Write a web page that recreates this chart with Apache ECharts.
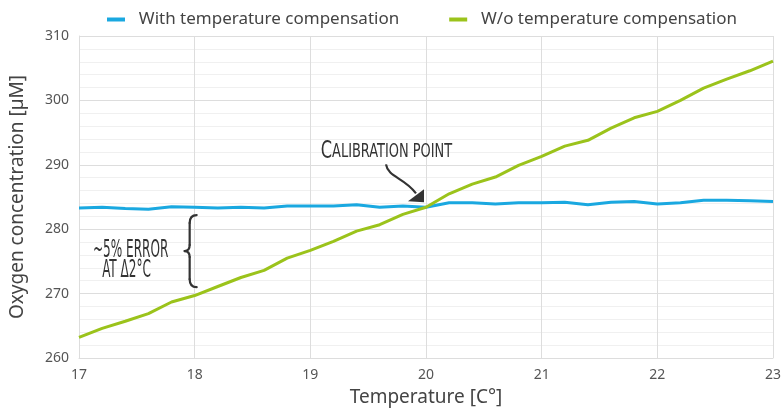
<!DOCTYPE html>
<html>
<head>
<meta charset="utf-8">
<script src="https://cdn.jsdelivr.net/npm/echarts@6/dist/echarts.min.js"></script>
<style>
  html, body { margin: 0; padding: 0; background: #fff; }
  #chart { width: 784px; height: 412px; }
</style>
</head>
<body>
<div id="chart"></div>
<script>
const temps = [17, 17.2, 17.4, 17.6, 17.8, 18, 18.2, 18.4, 18.6, 18.8, 19, 19.2, 19.4, 19.6, 19.8,
  20, 20.2, 20.4, 20.6, 20.8, 21, 21.2, 21.4, 21.6, 21.8, 22, 22.2, 22.4, 22.6, 22.8, 23];

const withComp = [283.3, 283.4, 283.2, 283.1, 283.5, 283.4, 283.3, 283.4, 283.3, 283.6, 283.6,
  283.6, 283.8, 283.4, 283.6, 283.4, 284.1, 284.1, 283.9, 284.1, 284.1, 284.2, 283.8, 284.2,
  284.3, 283.9, 284.1, 284.5, 284.5, 284.4, 284.3];

const withoutComp = [263.2, 264.6, 265.7, 266.9, 268.7, 269.7, 271.1, 272.5, 273.6, 275.5, 276.7,
  278.1, 279.7, 280.7, 282.3, 283.4, 285.5, 287.0, 288.1, 289.9, 291.3, 292.9, 293.8, 295.7,
  297.3, 298.3, 300.0, 301.9, 303.3, 304.6, 306.1];

const seriesNames = ['With temperature compensation', 'W/o temperature compensation'];
const calibration = [20, 283.4];

const font = '"Noto Sans", "Open Sans", sans-serif';
const handFont = '"DejaVu Sans Condensed", "Liberation Sans Narrow", sans-serif';
const ink = '#333';
const blue = '#1aa8e0';
const green = '#9bc31b';

const chart = echarts.init(document.getElementById('chart'));

chart.setOption({
  animation: false,
  textStyle: { fontFamily: font },
  legend: {
    data: seriesNames,
    left: 102,
    top: 6,
    icon: 'rect',
    itemWidth: 18,
    itemHeight: 4,
    itemGap: 50,
    formatter: name => '  ' + name,
    textStyle: { fontSize: 17, color: '#444', fontFamily: font }
  },
  grid: { left: 79, right: 11, top: 36, bottom: 49 },
  xAxis: {
    type: 'value',
    min: 17,
    max: 23,
    interval: 1,
    name: 'Temperature [C°]',
    nameLocation: 'middle',
    nameGap: 30,
    nameTextStyle: { fontSize: 19, color: '#444', fontFamily: font },
    axisLine: { lineStyle: { color: '#ddd' } },
    axisTick: { show: false },
    axisLabel: { fontSize: 14, color: '#555', margin: 10 },
    splitLine: { show: true, lineStyle: { color: '#ddd' } }
  },
  yAxis: {
    type: 'value',
    min: 260,
    max: 310,
    interval: 10,
    name: 'Oxygen concentration [µM]',
    nameLocation: 'middle',
    nameGap: 52,
    nameTextStyle: { fontSize: 19, color: '#444', fontFamily: font },
    axisLine: { show: true, lineStyle: { color: '#ddd' } },
    axisTick: { show: false },
    axisLabel: { fontSize: 14, color: '#555', margin: 10 },
    splitLine: { lineStyle: { color: '#ddd' } },
    minorTick: { show: false, splitNumber: 5 },
    minorSplitLine: { show: true, lineStyle: { color: '#f0f0f0' } }
  },
  series: [
    {
      name: seriesNames[0],
      type: 'line',
      data: temps.map((t, i) => [t, withComp[i]]),
      showSymbol: false,
      lineStyle: { color: blue, width: 3 },
      itemStyle: { color: blue }
    },
    {
      name: seriesNames[1],
      type: 'line',
      data: temps.map((t, i) => [t, withoutComp[i]]),
      showSymbol: false,
      lineStyle: { color: green, width: 3 },
      itemStyle: { color: green }
    }
  ]
});

// annotations, placed from data coordinates
function px(x, y) {
  return chart.convertToPixel({ gridIndex: 0 }, [x, y]);
}

const cp = px(calibration[0], calibration[1]);
const braceTop = px(18, 282.2);
const braceBot = px(18, 271.0);
const bx = braceTop[0] + 2;
const bt = braceTop[1];
const bb = braceBot[1];
const bm = (bt + bb) / 2;
const errLine1 = px(17.12, 276.7);
const errLine2 = px(17.2, 273.5);
const calText = px(19.09, 292.0);

const braceStyle = { stroke: ink, lineWidth: 2.2, fill: null, lineCap: 'round' };
function quad(x1, y1, cx, cy, x2, y2) {
  return { type: 'bezierCurve', shape: { x1, y1, cpx1: cx, cpy1: cy, x2, y2 }, style: braceStyle };
}
function seg(x1, y1, x2, y2) {
  return { type: 'line', shape: { x1, y1, x2, y2 }, style: braceStyle };
}

const handText = (pos, text, size, sx) => ({
  type: 'text',
  x: pos[0],
  y: pos[1],
  scaleX: sx,
  style: { text, fontSize: size, fontFamily: handFont, fill: ink, verticalAlign: 'middle' }
});

chart.setOption({
  graphic: [
    {
      type: 'text',
      x: calText[0],
      y: calText[1],
      scaleX: 0.72,
      style: {
        text: '{big|C}{small|ALIBRATION POINT}',
        verticalAlign: 'middle',
        fill: ink,
        rich: {
          big: { fontSize: 25, fontFamily: handFont, fill: ink },
          small: { fontSize: 20, fontFamily: handFont, fill: ink }
        }
      }
    },
    {
      type: 'bezierCurve',
      shape: {
        x1: cp[0] - 40, y1: cp[1] - 43,
        x2: cp[0] - 10, y2: cp[1] - 14,
        cpx1: cp[0] - 38, cpy1: cp[1] - 30,
        cpx2: cp[0] - 22, cpy2: cp[1] - 30
      },
      style: { stroke: ink, lineWidth: 2.2, fill: null }
    },
    {
      type: 'polygon',
      shape: {
        points: [
          [cp[0] - 18, cp[1] - 6],
          [cp[0] - 2, cp[1] - 18],
          [cp[0] - 2, cp[1] - 5]
        ]
      },
      style: { fill: ink }
    },
    quad(bx, bt, bx - 7, bt, bx - 7, bt + 8),
    seg(bx - 7, bt + 8, bx - 7, bm - 6),
    quad(bx - 7, bm - 6, bx - 7, bm, bx - 12, bm),
    quad(bx - 12, bm, bx - 7, bm, bx - 7, bm + 6),
    seg(bx - 7, bm + 6, bx - 7, bb - 8),
    quad(bx - 7, bb - 8, bx - 7, bb, bx, bb),
    handText(errLine1, '~5% ERROR', 24, 0.56),
    handText(errLine2, 'AT Δ2°C', 24, 0.56)
  ]
});
</script>
</body>
</html>
